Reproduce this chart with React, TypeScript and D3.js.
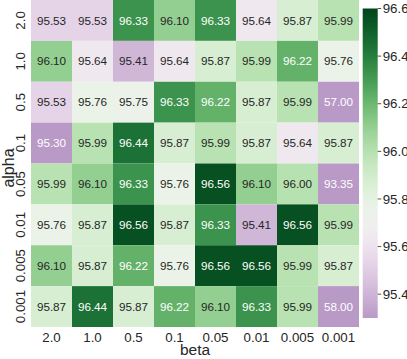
import React from 'react';
import * as d3 from 'd3';

const alphas = ['2.0', '1.0', '0.5', '0.1', '0.05', '0.01', '0.005', '0.001'];
const betas = ['2.0', '1.0', '0.5', '0.1', '0.05', '0.01', '0.005', '0.001'];

// one row per alpha, columns follow betas
const rowA20 = [95.53, 95.53, 96.33, 96.1, 96.33, 95.64, 95.87, 95.99];
const rowA10 = [96.1, 95.64, 95.41, 95.64, 95.87, 95.99, 96.22, 95.76];
const rowA05 = [95.53, 95.76, 95.75, 96.33, 96.22, 95.87, 95.99, 57.0];
const rowA01 = [95.3, 95.99, 96.44, 95.87, 95.99, 95.87, 95.64, 95.87];
const rowA005 = [95.99, 96.1, 96.33, 95.76, 96.56, 96.1, 96.0, 93.35];
const rowA001 = [95.76, 95.87, 96.56, 95.87, 96.33, 95.41, 96.56, 95.99];
const rowA0005 = [96.1, 95.87, 96.22, 95.76, 96.56, 96.56, 95.99, 95.87];
const rowA0001 = [95.87, 96.44, 95.87, 96.22, 96.1, 96.33, 95.99, 58.0];
const rows = [rowA20, rowA10, rowA05, rowA01, rowA005, rowA001, rowA0005, rowA0001];

const cbarTicks = [95.4, 95.6, 95.8, 96.0, 96.2, 96.4, 96.6];

const vmin = 95.3;
const vmax = 96.6;
const center = 95.7;

const W = 407;
const H = 359;
const left = 31;
const top = 0;
const gridW = 328;
const gridH = 327;
const cbX = 362.7;
const cbW = 15;
const cbTop = 8.5;
const cbBottom = 318;
const font = 'Liberation Sans, Arial, sans-serif';

export default function App() {
  const x = d3.scaleBand<string>().domain(betas).range([left, left + gridW]);
  const y = d3.scaleBand<string>().domain(alphas).range([top, top + gridH]);

  const vrange = Math.max(vmax - center, center - vmin);
  const norm = d3.scaleLinear().domain([center - vrange, center + vrange]).range([0, 1]);
  const color = (v: number) => {
    const c = Math.max(vmin, Math.min(vmax, v));
    return d3.interpolatePRGn(norm(c));
  };
  const textColor = (fill: string) => {
    const c = d3.rgb(fill);
    const lin = (u: number) => {
      const s = u / 255;
      return s <= 0.03928 ? s / 12.92 : Math.pow((s + 0.055) / 1.055, 2.4);
    };
    const lum = 0.2126 * lin(c.r) + 0.7152 * lin(c.g) + 0.0722 * lin(c.b);
    return lum > 0.408 ? '#262626' : '#ffffff';
  };

  const cbY = d3.scaleLinear().domain([vmin, vmax]).range([cbBottom, cbTop]);
  const stops = d3.range(0, 1.0001, 0.05).map((t) => vmin + t * (vmax - vmin));

  return (
    <svg width={W} height={H} style={{ position: 'absolute', left: 0, top: 0 }}>
      <defs>
        <linearGradient id="cbar" x1="0" y1="1" x2="0" y2="0">
          {stops.map((v, i) => (
            <stop key={i} offset={(v - vmin) / (vmax - vmin)} stopColor={color(v)} />
          ))}
        </linearGradient>
      </defs>
      <rect x={0} y={0} width={W} height={H} fill="#ffffff" />
      {rows.map((row, i) =>
        row.map((v, j) => {
          const fill = color(v);
          const cx = x(betas[j])!;
          const cy = y(alphas[i])!;
          return (
            <g key={`${i}-${j}`}>
              <rect x={cx} y={cy} width={x.bandwidth()} height={y.bandwidth()} fill={fill} />
              <text
                x={cx + x.bandwidth() / 2}
                y={cy + y.bandwidth() / 2}
                dy="0.35em"
                textAnchor="middle"
                fontFamily={font}
                fontSize={11.7}
                fill={textColor(fill)}
              >
                {v.toFixed(2)}
              </text>
            </g>
          );
        })
      )}
      {betas.map((b) => (
        <text
          key={b}
          x={x(b)! + x.bandwidth() / 2}
          y={337}
          dy="0.35em"
          textAnchor="middle"
          fontFamily={font}
          fontSize={13.3}
          fill="#262626"
        >
          {b}
        </text>
      ))}
      {alphas.map((a) => {
        const cy = y(a)! + y.bandwidth() / 2;
        return (
          <text
            key={a}
            transform={`translate(20,${cy}) rotate(-90)`}
            dy="0.35em"
            textAnchor="middle"
            fontFamily={font}
            fontSize={13.3}
            fill="#262626"
          >
            {a}
          </text>
        );
      })}
      <text x={195} y={350} dy="0.35em" textAnchor="middle" fontFamily={font} fontSize={15.5} fill="#262626">
        beta
      </text>
      <text
        transform={`translate(8.5,${168}) rotate(-90)`}
        dy="0.35em"
        textAnchor="middle"
        fontFamily={font}
        fontSize={16}
        fill="#262626"
      >
        alpha
      </text>
      <rect x={cbX} y={cbTop} width={cbW} height={cbBottom - cbTop} fill="url(#cbar)" />
      {cbarTicks.map((t) => (
        <g key={t} transform={`translate(${cbX + cbW},${cbY(t)})`}>
          <line x1={0} x2={3.5} stroke="#262626" strokeWidth={0.8} />
          <text x={5} dy="0.35em" fontFamily={font} fontSize={13.3} fill="#262626">
            {t.toFixed(1)}
          </text>
        </g>
      ))}
    </svg>
  );
}
